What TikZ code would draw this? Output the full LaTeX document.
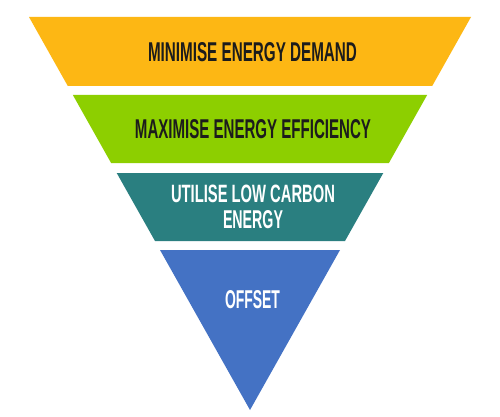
\documentclass[tikz,border=0pt]{standalone}
\usepackage{fontspec}
\usepackage{graphicx}
\setmainfont{Liberation Sans}
\definecolor{bandorange}{HTML}{FDB714}
\definecolor{bandgreen}{HTML}{8DCF00}
\definecolor{bandteal}{HTML}{2A7F80}
\definecolor{bandblue}{HTML}{4472C4}
\definecolor{darktext}{HTML}{1C1C1C}
\newcommand{\fitcaps}[3]{\resizebox{#1pt}{#2pt}{\bfseries #3}}
\tikzset{
  band/.style={draw=none},
  darklabel/.style={text=darktext, font=\fontsize{20}{26}\selectfont, inner sep=0pt, align=center},
  lightlabel/.style={text=white, font=\fontsize{20}{26}\selectfont, inner sep=0pt, align=center}
}
\begin{document}
\begin{tikzpicture}[x=1pt,y=-1pt]
\useasboundingbox (0,0) rectangle (500,417);
\fill[white] (0,0) rectangle (500,417);
% bands
\fill[band, bandorange] (29,17) -- (471,17) -- (432.2,86) -- (67.8,86) -- cycle;
\fill[band, bandgreen] (72.86,95) -- (427.14,95) -- (388.9,163) -- (111.1,163) -- cycle;
\fill[band, bandteal] (116.7,173) -- (383.3,173) -- (345.0,241) -- (155.0,241) -- cycle;
\fill[band, bandblue] (160,250) -- (340,250) -- (250,410) -- cycle;
% labels
\node[darklabel] (t1) at (252.5,52.5) {\fitcaps{209}{19}{MINIMISE ENERGY DEMAND}};
\node[darklabel] (t2) at (253,129.5) {\fitcaps{236}{19}{MAXIMISE ENERGY EFFICIENCY}};
\node[lightlabel] (t3) at (253,206.5) {\fitcaps{164}{17.5}{UTILISE LOW CARBON}\\\fitcaps{60}{18}{ENERGY}};
\node[lightlabel] (t4) at (252.5,300) {\fitcaps{55}{18}{OFFSET}};
\end{tikzpicture}
\end{document}
